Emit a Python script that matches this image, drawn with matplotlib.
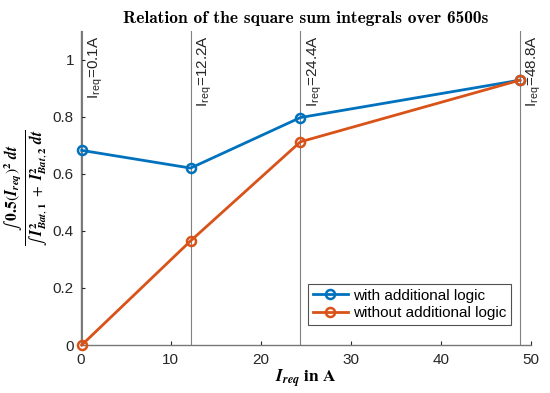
import matplotlib
matplotlib.use("Agg")
import matplotlib.pyplot as plt

plt.rcParams['font.family'] = ['Liberation Sans', 'DejaVu Sans']
plt.rcParams['mathtext.fontset'] = 'cm'

# Data
i_req = [0.1, 12.2, 24.4, 48.8]
with_logic = [0.682, 0.620, 0.797, 0.928]
without_logic = [0.0, 0.365, 0.712, 0.928]
labels = ['0.1A', '12.2A', '24.4A', '48.8A']

BLUE = '#0072BD'
ORANGE = '#D95319'

fig = plt.figure(figsize=(5.5, 3.93), dpi=100)
ax = fig.add_axes([0.147, 0.122, 0.818, 0.799])

for x, lab in zip(i_req, labels):
    ax.axvline(x, color='#808080', lw=0.8, zorder=1)
    ax.text(x + 0.55, 1.085, r'I$_{\mathregular{req}}$=' + lab, rotation=90,
            ha='left', va='top', fontsize=11, color='#262626')

ax.plot(i_req, with_logic, '-o', color=BLUE, lw=2, ms=6.5, mfc='none', mew=1.8,
        label='with additional logic', zorder=3, clip_on=False)
ax.plot(i_req, without_logic, '-o', color=ORANGE, lw=2, ms=6.5, mfc='none', mew=1.8,
        label='without additional logic', zorder=3, clip_on=False)

ax.set_xlim(0, 50)
ax.set_ylim(0, 1.1)
ax.set_xticks([0, 10, 20, 30, 40, 50])
ax.set_yticks([0, 0.2, 0.4, 0.6, 0.8, 1])
ax.set_yticklabels(['0', '0.2', '0.4', '0.6', '0.8', '1'])
ax.tick_params(direction='in', labelsize=11, colors='#262626', length=3, width=0.8)
ax.tick_params(axis='x', pad=6)
ax.tick_params(axis='y', pad=5)
for s in ['top', 'right']:
    ax.spines[s].set_visible(False)
for s in ['left', 'bottom']:
    ax.spines[s].set_color('#777777')
    ax.spines[s].set_linewidth(1.0)

ax.set_title('Relation of the square sum integrals over 6500s',
             fontsize=12.5, pad=6, family='cmb10')
ax.set_xlabel(r'$\mathbfit{I}_{\mathbfit{req}}\ \mathbf{in\ A}$', fontsize=12.5,
              labelpad=0, math_fontfamily='stix')
ax.set_ylabel(r'$\frac{\int\ \mathbf{0.5}(\mathbfit{I}_{\mathbfit{req}})^{\mathbf{2}}\ \mathbfit{dt}}'
              r'{\int\ \mathbfit{I}_{\mathbfit{Bat},\mathbf{1}}^{\mathbf{2}}\ +\ '
              r'\mathbfit{I}_{\mathbfit{Bat},\mathbf{2}}^{\mathbf{2}}\ \mathbfit{dt}}$',
              fontsize=16, labelpad=2, math_fontfamily='stix')

leg = ax.legend(loc='lower right', bbox_to_anchor=(0.955, 0.064), fontsize=11,
                frameon=True, fancybox=False, edgecolor='#262626', borderaxespad=0,
                handlelength=2.3, borderpad=0.3, labelspacing=0.25, handletextpad=0.3)
leg.get_frame().set_linewidth(0.8)

fig.savefig('out.png', dpi=100)
